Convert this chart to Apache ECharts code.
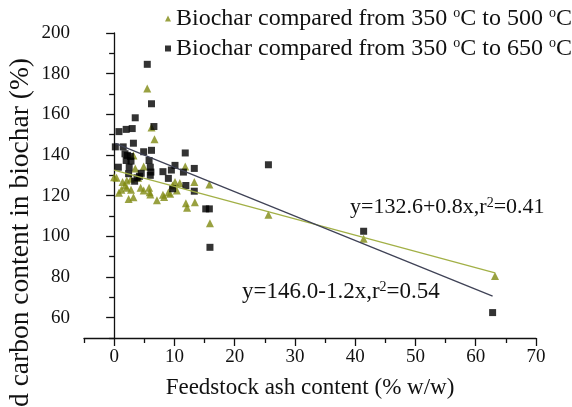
<!DOCTYPE html>
<html>
<head>
<meta charset="utf-8">
<script src="https://cdn.jsdelivr.net/npm/echarts@6/dist/echarts.min.js"></script>
<style>
  html, body { margin: 0; padding: 0; background: #fff; }
  #chart { width: 572px; height: 407px; }
</style>
</head>
<body>
<div id="chart"></div>
<script>
// ash content (% w/w) vs change in fixed carbon (%), one pair per feedstock
const series500 = [
  [0.0, 129.1], [0.4, 128.8], [0.8, 121.4], [1.2, 122.9], [1.4, 126.7], [1.8, 125.0],
  [2.1, 127.5], [2.1, 123.9], [2.4, 118.3], [2.8, 128.3], [2.8, 122.9], [3.2, 119.2],
  [3.2, 139.8], [3.5, 133.3], [4.0, 128.8], [4.4, 123.9], [4.9, 122.6], [4.9, 134.4],
  [5.5, 172.7], [5.8, 123.9], [5.9, 121.7], [6.0, 120.6], [6.2, 153.5], [6.7, 147.7],
  [7.1, 117.8], [8.1, 120.4], [8.3, 119.3], [9.0, 121.5], [9.3, 120.9], [9.7, 125.0],
  [10.1, 126.7], [10.4, 122.6], [10.9, 126.2], [11.8, 134.4], [11.9, 116.3], [12.1, 114.0],
  [13.3, 126.7], [13.4, 116.8], [15.8, 125.5], [15.9, 106.4], [25.6, 110.6], [41.4, 98.8],
  [63.2, 80.5]
];
const series650 = [
  [0.2, 144.0], [0.8, 151.5], [0.7, 134.0], [1.5, 144.0], [1.8, 140.6], [2.0, 152.6],
  [2.0, 137.3], [2.2, 139.8], [2.4, 130.8], [2.5, 134.0], [2.7, 139.3], [2.8, 137.0],
  [3.0, 153.0], [3.2, 145.8], [3.4, 127.1], [3.5, 158.3], [3.8, 128.8], [4.2, 129.5],
  [4.5, 131.0], [4.9, 141.6], [5.5, 184.6], [5.8, 137.3], [6.0, 134.0], [6.1, 131.6],
  [6.0, 130.0], [6.2, 165.2], [6.2, 142.3], [6.6, 154.0], [8.1, 131.8], [9.0, 128.5],
  [9.5, 132.6], [9.7, 123.4], [10.1, 134.9], [11.5, 131.6], [11.8, 141.0], [11.9, 125.0],
  [13.3, 133.4], [13.3, 122.2], [15.2, 113.5], [15.8, 113.5], [15.9, 94.6], [25.6, 135.2],
  [41.4, 102.5], [62.8, 62.5]
];
// regression fits: intercept, slope
const fit500 = [132.6, -0.8];
const fit650 = [146.0, -1.2];

const seriesNames = [
  'Biochar compared from 350 °C to 500 °C',
  'Biochar compared from 350 °C to 650 °C'
];
const xTicks = [0, 10, 20, 30, 40, 50, 60, 70];
const xMinorTicks = [-5, 5, 15, 25, 35, 45, 55, 65];
const yTicks = [60, 80, 100, 120, 140, 160, 180, 200];
const yMinorTicks = [50, 70, 90, 110, 130, 150, 170, 190];

const serif = '"Liberation Serif", "DejaVu Serif", serif';

function fitLine(points, fit) {
  const xs = points.map(p => p[0]);
  const lo = Math.min(...xs), hi = Math.max(...xs);
  return [[lo, fit[0] + fit[1] * lo], [hi, fit[0] + fit[1] * hi]];
}

const chart = echarts.init(document.getElementById('chart'), null, { renderer: 'canvas' });

const axisLine = { show: true, lineStyle: { color: '#111', width: 1.3 } };
const supStyle = { s: { font: '14px ' + serif, verticalAlign: 'top', fill: '#111' } };

chart.setOption({
  animation: false,
  backgroundColor: '#fff',
  grid: { left: 84, right: 36, top: 33, bottom: 69 },
  legend: {
    orient: 'vertical',
    left: 160,
    top: 1,
    itemWidth: 6,
    itemHeight: 6,
    itemGap: 5,
    data: seriesNames,
    formatter: name => name.replace(/°C/g, '{s|o}C'),
    textStyle: {
      fontFamily: serif, fontSize: 24, color: '#111', lineHeight: 25,
      rich: { s: { fontFamily: serif, fontSize: 14, verticalAlign: 'top', color: '#111' } }
    }
  },
  xAxis: [
    {
      type: 'value', min: -5, max: 70,
      name: 'Feedstock ash content (% w/w)',
      nameLocation: 'middle', nameGap: 38,
      nameTextStyle: { fontFamily: serif, fontSize: 23, color: '#111' },
      axisLine,
      axisTick: { show: true, length: 8, customValues: xTicks, lineStyle: { color: '#111', width: 1.3 } },
      axisLabel: { customValues: xTicks, margin: 10, fontFamily: serif, fontSize: 19, color: '#111' },
      splitLine: { show: false }
    },
    {
      type: 'value', min: -5, max: 70, position: 'bottom',
      axisLine: { show: false },
      axisTick: { show: true, length: 5, customValues: xMinorTicks, lineStyle: { color: '#111', width: 1.3 } },
      axisLabel: { show: false },
      splitLine: { show: false }
    }
  ],
  yAxis: [
    {
      type: 'value', min: 50, max: 200,
      axisLine,
      axisTick: { show: true, length: 8, customValues: yTicks, lineStyle: { color: '#111', width: 1.3 } },
      axisLabel: { customValues: yTicks, margin: 14, fontFamily: serif, fontSize: 19, color: '#111' },
      splitLine: { show: false }
    },
    {
      type: 'value', min: 50, max: 200, position: 'left',
      axisLine: { show: false },
      axisTick: { show: true, length: 5, customValues: yMinorTicks, lineStyle: { color: '#111', width: 1.3 } },
      axisLabel: { show: false },
      splitLine: { show: false }
    }
  ],
  graphic: [
    {
      type: 'text', x: 21, y: 58, rotation: Math.PI / 2,
      style: {
        text: 'Fixed carbon content in biochar (%)',
        font: '27.5px ' + serif, fill: '#111',
        textAlign: 'right', textVerticalAlign: 'middle'
      }
    },
    {
      type: 'text', x: 350, y: 207,
      style: {
        text: 'y=132.6+0.8x,r{s|2}=0.41',
        font: '22px ' + serif, fill: '#111',
        textAlign: 'left', textVerticalAlign: 'middle',
        rich: supStyle
      }
    },
    {
      type: 'text', x: 242, y: 292,
      style: {
        text: 'y=146.0-1.2x,r{s|2}=0.54',
        font: '23px ' + serif, fill: '#111',
        textAlign: 'left', textVerticalAlign: 'middle',
        rich: supStyle
      }
    }
  ],
  series: [
    {
      name: seriesNames[0], type: 'scatter', symbol: 'triangle', symbolSize: 8,
      itemStyle: { color: '#7f8912' },
      data: series500
    },
    {
      name: seriesNames[1], type: 'scatter', symbol: 'rect', symbolSize: 7,
      itemStyle: { color: '#000' },
      data: series650
    },
    {
      type: 'line', symbol: 'none', silent: true,
      lineStyle: { color: '#a2b046', width: 1.3 },
      data: fitLine(series500, fit500), z: 3
    },
    {
      type: 'line', symbol: 'none', silent: true,
      lineStyle: { color: '#3f4256', width: 1.3 },
      data: fitLine(series650, fit650), z: 3
    }
  ]
});
</script>
</body>
</html>
